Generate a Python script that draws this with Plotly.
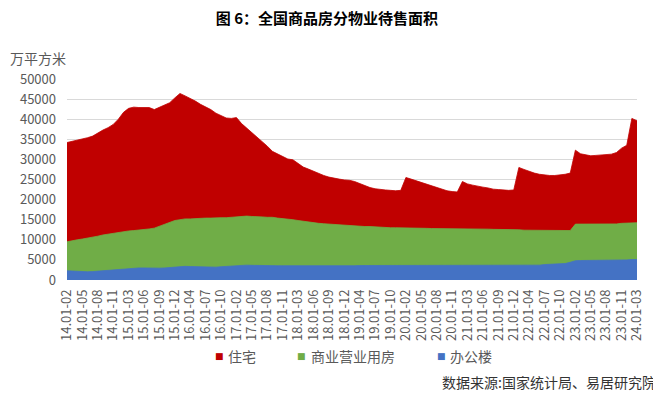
import plotly.graph_objects as go

# ---- categories: cumulative monthly periods 2014.01-02 ... 2024.01-03 ----
years = ["14", "15", "16", "17", "18", "19", "20", "21", "22", "23"]
months = ["02", "03", "04", "05", "06", "07", "08", "09", "10", "11", "12"]
categories = [f"{y}.01-{m}" for y in years for m in months] + ["24.01-02", "24.01-03"]

# ---- series values (万平方米) ----
residential = [
    34200, 34500, 34800, 35000, 35400, 35800, 36600, 37300, 37900, 38700, 40000,
    41700, 42700, 43000, 42900, 42900, 42900, 42400, 42900, 43600, 44100, 45300,
    46400, 45800, 45200, 44500, 43700, 43100, 42400, 41500, 40900, 40300, 40200,
    40400, 38900, 37800, 36700, 35500, 34400, 33300, 32000, 31400, 30600, 30100,
    29900, 29000, 28100, 27600, 27000, 26500, 26000, 25600, 25300, 25100, 24900,
    24800, 24500, 24000, 23500, 23000, 22700, 22500, 22400, 22300, 22200, 22300,
    25500, 25100, 24700, 24300, 23900, 23400, 23000, 22600, 22200, 22000, 21900,
    24500, 23900, 23600, 23300, 23100, 22900, 22600, 22500, 22400, 22300, 22400,
    28000, 27500, 27000, 26600, 26300, 26100, 26000, 26000, 26100, 26300, 26600,
    32300, 31400, 31100, 30900, 31000, 31100, 31200, 31300, 31700, 32800, 33500,
    40200, 39600,
]
commercial = [
    9500, 9800, 10000, 10200, 10400, 10600, 10900, 11200, 11400, 11700, 11900,
    12100, 12200, 12300, 12400, 12500, 12700, 12900, 13400, 13900, 14400, 14800,
    15000, 15200, 15200, 15300, 15300, 15400, 15400, 15500, 15500, 15500, 15600,
    15800, 15900, 15900, 15800, 15800, 15700, 15600, 15600, 15400, 15300, 15100,
    15000, 14800, 14600, 14400, 14300, 14100, 14000, 13900, 13800, 13700, 13600,
    13500, 13500, 13400, 13300, 13300, 13200, 13100, 13100, 13000, 13000, 13000,
    12900, 12900, 12900, 12850, 12850, 12800, 12800, 12800, 12800, 12800, 12700,
    12700, 12700, 12700, 12700, 12700, 12650, 12600, 12600, 12600, 12550, 12500,
    12500, 12400, 12400, 12400, 12350, 12300, 12300, 12300, 12250, 12250, 12300,
    13900, 13900, 13900, 13900, 13900, 13900, 13900, 13900, 13950, 14100, 14200,
    14300, 14250,
]
office = [
    2300, 2200, 2150, 2100, 2050, 2100, 2200, 2300, 2450, 2600, 2700,
    2800, 2900, 2950, 3000, 3000, 2950, 2900, 2950, 3000, 3100, 3250,
    3400, 3400, 3350, 3300, 3250, 3200, 3150, 3200, 3300, 3400, 3450,
    3550, 3650, 3700, 3650, 3600, 3550, 3550, 3550, 3550, 3550, 3550,
    3500, 3450, 3450, 3400, 3400, 3400, 3400, 3450, 3450, 3500, 3500,
    3550, 3550, 3600, 3600, 3650, 3650, 3700, 3700, 3700, 3700, 3700,
    3700, 3700, 3700, 3700, 3700, 3700, 3700, 3700, 3700, 3700, 3700,
    3700, 3700, 3700, 3700, 3700, 3700, 3700, 3700, 3700, 3700, 3700,
    3700, 3700, 3700, 3700, 3700, 3850, 3900, 3950, 4000, 4100, 4400,
    4800, 4850, 4850, 4850, 4900, 4900, 4900, 4900, 4950, 4950, 5000,
    5100, 5100,
]

series_names = ["住宅", "商业营业用房", "办公楼"]
series_colors = ["#C00000", "#70AD47", "#4472C4"]
tick_labels = categories[::3]
y_ticks = list(range(0, 50001, 5000))

title_text = "图 6：全国商品房分物业待售面积"
y_unit = "万平方米"
source_text = "数据来源:国家统计局、易居研究院"

FONT = "Noto Sans CJK SC, Microsoft YaHei, sans-serif"
GRAY = "#595959"

# the page body has an 8px margin, so the figure is drawn 8px smaller and offset
OFF = 8
W, H = 661 - OFF, 399 - OFF

fig = go.Figure()
for name, vals, col in zip(series_names, [residential, commercial, office], series_colors):
    fig.add_trace(go.Scatter(
        x=categories, y=vals, name=name, mode="lines",
        line=dict(color=col, width=0.8), fill="tozeroy", fillcolor=col,
        showlegend=False,
    ))

fig.update_layout(
    width=W, height=H,
    margin=dict(l=63 - OFF, r=661 - 637, t=79 - OFF, b=399 - 280),
    paper_bgcolor="white", plot_bgcolor="white",
    font=dict(family=FONT, color=GRAY, size=13),
    title=dict(text=title_text, x=(327 - OFF) / W, xanchor="center",
               y=1 - (19 - OFF) / H, yanchor="middle",
               font=dict(family=FONT, size=15, color="black", weight="bold")),
    xaxis=dict(
        type="category", range=[0, len(categories) - 1],
        tickmode="array", tickvals=tick_labels, ticktext=tick_labels,
        tickangle=-90, tickfont=dict(size=13, color=GRAY),
        showgrid=False, showline=False, zeroline=False, ticks="",
        ticklabelstandoff=6,
    ),
    yaxis=dict(
        range=[0, 50000], tickmode="array", tickvals=y_ticks,
        ticktext=[str(v) for v in y_ticks],
        tickfont=dict(size=13, color=GRAY),
        showgrid=True, gridcolor="#D9D9D9", gridwidth=1,
        zeroline=False, showline=False, ticks="", ticklabelstandoff=10,
    ),
)

annotations = [
    dict(text=y_unit, xref="paper", yref="paper", x=(4 - 63) / 574, y=(280 - 58) / 201,
         xanchor="left", yanchor="middle", showarrow=False, font=dict(size=14, color=GRAY)),
    dict(text=source_text, xref="paper", yref="paper", x=(658 - 63) / 574, y=-(382 - 280) / 201,
         xanchor="right", yanchor="middle", showarrow=False, font=dict(size=14, color="#333333")),
]
legend_pos = [(217, 223), (299.5, 307), (440.5, 447)]
for (sq_x, tx_x), name, col in zip(legend_pos, series_names, series_colors):
    annotations.append(dict(text="■", xref="paper", yref="paper", x=(sq_x - 63) / 574,
                            y=-(356 - 280) / 201, xanchor="center", yanchor="middle",
                            showarrow=False, font=dict(size=9, color=col, family="DejaVu Sans")))
    annotations.append(dict(text=name, xref="paper", yref="paper", x=(tx_x - 63) / 574,
                            y=-(356 - 280) / 201, xanchor="left", yanchor="middle",
                            showarrow=False, font=dict(size=14, color=GRAY)))
fig.update_layout(annotations=annotations)

fig.write_html("out.html")
